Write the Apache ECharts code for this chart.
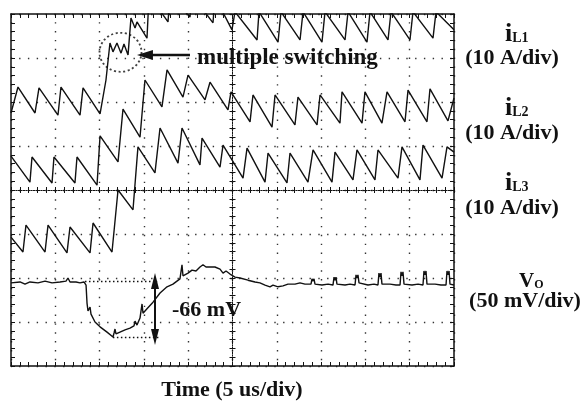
<!DOCTYPE html>
<html><head><meta charset="utf-8">
<script src="https://cdn.jsdelivr.net/npm/echarts@6/dist/echarts.min.js"></script>
<style>html,body{margin:0;padding:0;background:#fff}#c{width:587px;height:403px}</style>
</head><body><div id="c"></div>
<script>
// time in microseconds (5 us/div, 10 div), amplitude in screen divisions (0..8)
const iL1 = [[0,5.75],[0.79,6.34],[2.71,5.75],[3.16,6.32],[5.30,5.70],[5.64,6.34],[7.79,5.70],[8.13,6.32],[10.05,5.73],[10.72,6.50],[11.17,7.34],[11.51,7.14],[11.96,7.34],[12.42,7.11],[12.75,7.32],[13.21,7.07],[13.54,7.91],[14.0,7.68],[14.22,7.82],[15.35,7.45],[15.58,8.43],[17.72,7.82],[17.95,8.43],[20.20,7.93],[20.43,8.43],[22.80,7.80],[23.02,8.39],[24.94,7.64],[25.28,8.05],[27.77,7.41],[27.99,8.05],[30.14,7.36],[30.47,8.05],[32.62,7.41],[32.96,8.05],[35.10,7.36],[35.44,8.05],[37.70,7.41],[38.04,8.05],[40.18,7.36],[40.52,8.05],[42.55,7.41],[42.89,8.05],[45.03,7.41],[45.37,8.05],[47.63,7.45],[47.97,8.05],[50,7.64]];
const iL2 = [[0,4.77],[2.14,4.18],[2.37,4.75],[4.63,4.16],[4.85,4.75],[7.22,4.16],[7.45,4.75],[9.71,4.11],[10.05,5.23],[12.08,4.64],[12.64,5.84],[14.56,5.20],[15.12,6.50],[17.04,5.89],[17.61,6.73],[19.41,6.11],[19.98,6.61],[21.90,6.05],[22.46,6.45],[24.49,5.82],[24.83,6.23],[26.98,5.55],[27.31,6.16],[29.46,5.43],[29.80,6.16],[32.05,5.48],[32.39,6.11],[34.54,5.48],[34.88,6.16],[37.13,5.52],[37.36,6.23],[39.62,5.52],[39.95,6.23],[41.87,5.52],[42.44,6.23],[44.47,5.55],[44.81,6.27],[46.95,5.55],[47.29,6.30],[49.32,5.57],[50,6.09]];
const iL3 = [[0,2.93],[1.35,2.59],[1.69,3.20],[3.84,2.59],[4.18,3.20],[6.32,2.57],[6.66,3.16],[8.92,2.57],[9.26,3.25],[11.40,2.59],[12.08,4.00],[13.77,3.55],[14.33,4.98],[16.25,4.39],[16.82,5.41],[18.85,4.61],[19.30,5.41],[21.33,4.57],[21.56,5.18],[23.59,4.52],[23.93,5.02],[26.19,4.27],[26.64,4.95],[28.67,4.18],[29.01,4.84],[31.15,4.16],[31.49,4.84],[33.52,4.18],[34.09,4.91],[36.23,4.18],[36.57,4.86],[38.60,4.23],[39.05,4.91],[41.08,4.23],[41.42,4.91],[43.68,4.27],[44.13,4.98],[46.16,4.23],[46.50,5.02],[48.65,4.27],[49.21,4.98],[50,4.86]];
const vo = [[0,1.89],[1.02,1.91],[1.58,1.86],[2.14,1.91],[3.05,1.89],[3.84,1.93],[4.63,1.89],[5.53,1.91],[6.21,1.93],[6.43,2.00],[6.66,1.91],[7.34,1.91],[7.79,1.89],[8.24,1.91],[8.47,1.84],[8.58,1.43],[8.69,1.25],[8.92,1.34],[9.03,1.18],[9.48,1.00],[10.05,0.89],[10.84,0.77],[11.51,0.66],[11.63,0.75],[11.74,0.84],[11.85,0.73],[12.30,0.77],[12.87,0.82],[13.43,0.86],[13.88,0.91],[14.0,1.02],[14.22,0.93],[14.56,1.09],[14.79,1.41],[14.90,1.20],[15.35,1.30],[16.03,1.45],[16.82,1.66],[17.61,1.80],[18.28,1.86],[19.07,1.98],[19.30,2.30],[19.41,2.05],[19.98,2.11],[20.43,2.18],[20.88,2.16],[21.33,2.25],[21.67,2.30],[22.01,2.25],[22.46,2.25],[23.02,2.25],[23.59,2.20],[23.93,2.11],[24.27,2.16],[24.72,2.09],[25.28,2.02],[25.85,2.00],[26.75,1.95],[27.54,1.91],[28.10,1.89],[28.67,1.84],[29.23,1.80],[29.57,1.84],[30.14,1.80],[30.70,1.82],[31.26,1.86],[32.05,1.86],[32.62,1.89],[33.18,1.86],[33.86,1.86],[33.97,1.98],[34.09,1.93],[34.20,1.98],[34.31,1.86],[35.10,1.84],[35.78,1.86],[36.34,1.84],[36.46,2.02],[36.57,1.95],[36.68,2.02],[36.79,1.86],[37.70,1.84],[38.26,1.86],[38.83,1.84],[38.94,2.07],[39.05,2.00],[39.16,2.07],[39.28,1.89],[40.29,1.84],[40.97,1.86],[41.42,1.84],[41.53,2.11],[41.65,2.02],[41.76,2.11],[41.87,1.86],[42.78,1.86],[43.45,1.84],[43.91,1.84],[44.02,2.14],[44.13,2.05],[44.24,2.14],[44.36,1.86],[45.26,1.84],[45.94,1.86],[46.50,1.84],[46.61,2.16],[46.73,2.07],[46.84,2.16],[46.95,1.86],[47.86,1.86],[48.53,1.84],[49.10,1.84],[49.21,2.16],[49.32,2.07],[49.44,2.16],[49.55,1.86],[50,1.84]];
// annotation anchors (data units)
const circleCenter = [12.36, 7.13];
const switchArrow = [[20.2, 7.07], [15.12, 7.07]];
const dropTop = [[8.35, 1.93], [16.5, 1.93]];
const dropBottom = [[11.5, 0.66], [16.8, 0.66]];
const dropArrow = [[16.25, 1.93], [16.25, 0.66]];

const ink = '#111';
const FONT = '"Liberation Serif","Times New Roman",serif';
const arrowHead = 'path://M5,0L10,22L0,22Z';

function frameAxis(pos, min, max, interval, split, dash) {
  return {
    type: 'value', min: min, max: max, interval: interval, position: pos,
    axisLine: {show: true, onZero: false, lineStyle: {color: ink, width: 1.5}},
    axisTick: {show: true, inside: true, length: 4, lineStyle: {color: ink, width: 1}},
    minorTick: {show: true, splitNumber: 5, length: 4, lineStyle: {color: ink, width: 1}},
    axisLabel: {show: false},
    splitLine: {show: split, lineStyle: {color: '#333', width: 1.4, type: dash, dashOffset: 0.7}}
  };
}
function centerAxis(pos, min, max, interval, inside) {
  return {
    type: 'value', min: min, max: max, interval: interval, position: pos,
    axisLine: {show: true, onZero: true, onZeroAxisIndex: 2, lineStyle: {color: ink, width: 1, type: [1, 1.5]}},
    axisTick: {show: true, inside: inside, length: 3, lineStyle: {color: ink, width: 1}},
    minorTick: {show: true, splitNumber: 5, length: 3, lineStyle: {color: ink, width: 1}},
    axisLabel: {show: false},
    splitLine: {show: false}
  };
}
function trace(data, extra) {
  return Object.assign({
    type: 'line', data: data, showSymbol: false, symbol: 'none', silent: true,
    lineStyle: {color: ink, width: 1.4}, clip: true, animation: false
  }, extra || {});
}
function txt(text, x, y, size, align) {
  return {type: 'text', x: x, y: y, silent: true,
    style: {text: text, fill: ink, font: 'bold ' + size + 'px ' + FONT,
      textAlign: align, align: align, textVerticalAlign: 'middle', verticalAlign: 'middle'}};
}
function sub(main, s, x, y, m, n) {
  return {type: 'text', x: x, y: y, silent: true,
    style: {text: '{a|' + main + '}{b|' + s + '}', align: 'left', textAlign: 'left',
      verticalAlign: 'middle', textVerticalAlign: 'middle',
      rich: {a: {fontSize: m, fontWeight: 'bold', fontFamily: FONT, fill: ink, color: ink, verticalAlign: 'bottom'},
             b: {fontSize: n, fontWeight: 'bold', fontFamily: FONT, fill: ink, color: ink, verticalAlign: 'bottom', padding: [0, 0, 2, 0]}}}};
}

const chart = echarts.init(document.getElementById('c'));
chart.setOption({
  animation: false,
  backgroundColor: '#fff',
  grid: {left: 11, top: 14, width: 443, height: 352},
  xAxis: [
    frameAxis('bottom', 0, 50, 5, true, [1.4, 7.46]),
    frameAxis('top', 0, 50, 5, false, 'solid'),
    centerAxis('bottom', -25, 25, 5, true),
    centerAxis('bottom', -25, 25, 5, false)
  ],
  yAxis: [
    frameAxis('left', 0, 8, 1, true, [1.4, 7.4]),
    frameAxis('right', 0, 8, 1, false, 'solid'),
    centerAxis('left', -4, 4, 1, true),
    centerAxis('left', -4, 4, 1, false)
  ],
  series: [
    trace(iL1, {markLine: {silent: true, animation: false, label: {show: false},
      lineStyle: {color: ink, width: 2.4, type: 'solid'},
      data: [[{coord: switchArrow[0], symbol: 'none'}, {coord: switchArrow[1], symbol: arrowHead, symbolSize: [10, 16]}]]}}),
    trace(iL2),
    trace(iL3),
    trace(vo, {markLine: {silent: true, animation: false, label: {show: false}, symbol: 'none',
      data: [
        [{coord: dropTop[0], lineStyle: {color: ink, width: 1.3, type: [1.5, 2.5]}}, {coord: dropTop[1]}],
        [{coord: dropBottom[0], lineStyle: {color: ink, width: 1.3, type: [1.5, 2.5]}}, {coord: dropBottom[1]}],
        [{coord: dropArrow[0], symbol: arrowHead, symbolSize: [8, 16], lineStyle: {color: ink, width: 2, type: 'solid'}},
         {coord: dropArrow[1], symbol: arrowHead, symbolSize: [8, 16]}]
      ]}}),
    {type: 'scatter', data: [circleCenter], symbol: 'circle', symbolSize: [42, 39], silent: true, animation: false,
      itemStyle: {color: 'rgba(0,0,0,0)', borderColor: ink, borderWidth: 1.8, borderType: [2, 2.5]}}
  ],
  graphic: [
    txt('multiple switching', 197, 58, 23, 'left'),
    txt('-66 mV', 172, 310, 22, 'left'),
    sub('i', 'L1', 505, 34, 26, 14),
    txt('(10 A/div)', 512, 58, 22, 'center'),
    sub('i', 'L2', 505, 108, 26, 14),
    txt('(10 A/div)', 512, 133, 22, 'center'),
    sub('i', 'L3', 505, 183, 26, 14),
    txt('(10 A/div)', 512, 208, 22, 'center'),
    sub('V', 'O', 519, 282, 21, 12),
    txt('(50 mV/div)', 525, 301, 22, 'center'),
    txt('Time (5 us/div)', 232, 390, 22, 'center')
  ]
});
</script></body></html>
